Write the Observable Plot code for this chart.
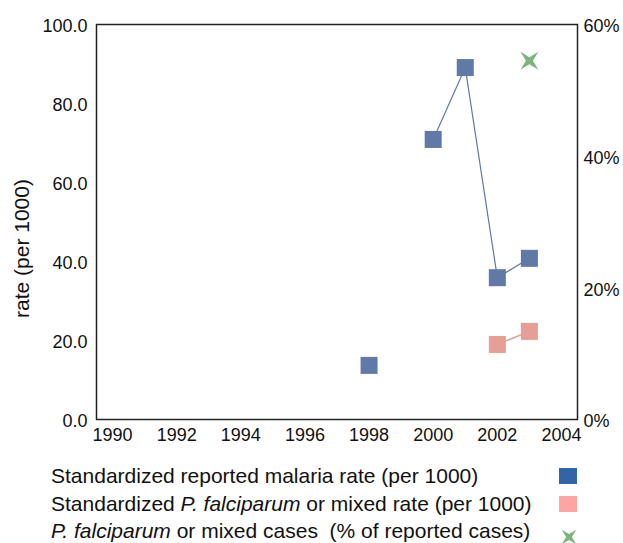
<!DOCTYPE html>
<html><head><meta charset="utf-8">
<script src="https://cdn.jsdelivr.net/npm/d3@7"></script>
<script src="https://cdn.jsdelivr.net/npm/@observablehq/plot@0.6"></script>
<style>
body{margin:0;background:#fff;font-family:"Liberation Sans",Arial,sans-serif;overflow:hidden;}
#legend{position:absolute;left:51px;top:462px;width:560px;font-size:21px;color:#111;}
.row{position:relative;height:27.5px;line-height:28px;white-space:nowrap;}
.sw{position:absolute;left:508px;top:6px;width:18px;height:16px;}
</style></head><body>
<div id="chart"></div>
<div id="legend"></div>
<script>
const years = [1998, 2000, 2001, 2002, 2003];
const reportedRate = [13.7, 70.9, 89.1, 35.9, 40.8];
const falcYears = [2002, 2003];
const falcRate = [19.0, 22.3];
const pctYears = [2003];
const pctCases = [54.5];
const xTicks = [1990, 1992, 1994, 1996, 1998, 2000, 2002, 2004];
const yTicks = [0, 20, 40, 60, 80, 100];
const pctTicks = [0, 20, 40, 60];
const legendLabels = [
  'Standardized reported malaria rate (per 1000)',
  'Standardized <i>P. falciparum</i> or mixed rate (per 1000)',
  '<i>P. falciparum</i> or mixed cases&nbsp; (% of reported cases)'
];

const blue = "#6079a6", pink = "#e69e95", green = "#7cb57b";

const rep = years.map((y,i)=>({year:y, v:reportedRate[i]}));
const falc = falcYears.map((y,i)=>({year:y, v:falcRate[i]}));
const pct = pctYears.map((y,i)=>({year:y, v:pctCases[i]*100/60}));

// split into consecutive-year segments
function segments(arr){
  const out=[]; let cur=[];
  arr.forEach((d,i)=>{ if(i>0 && d.year-arr[i-1].year>1){ out.push(cur); cur=[]; } cur.push(d); });
  out.push(cur);
  return out.flatMap((s,k)=>s.map(d=>({...d, seg:k})));
}

const star = {
  draw(ctx, size){
    const r = Math.sqrt(size)*0.75, q = r*0.28;
    const pts=[];
    for(let i=0;i<4;i++){
      const a = Math.PI/4 + i*Math.PI/2;
      pts.push([r*Math.cos(a), r*Math.sin(a)]);
      const b = a + Math.PI/4;
      pts.push([q*Math.cos(b), q*Math.sin(b)]);
    }
    ctx.moveTo(pts[0][0],pts[0][1]);
    for(let i=1;i<pts.length;i++) ctx.lineTo(pts[i][0],pts[i][1]);
    ctx.closePath();
  }
};

const plot = Plot.plot({
  width: 623, height: 450,
  marginTop: 24, marginBottom: 31, marginLeft: 96, marginRight: 46,
  style: {fontFamily: '"Liberation Sans", Arial, sans-serif', fontSize: "18px", color:"#111", overflow:"visible"},
  x: {domain: [1989.5, 2004.5]},
  y: {domain: [0, 100]},
  marks: [
    Plot.frame({stroke:"#222", strokeWidth:1.5}),
    Plot.axisX(xTicks, {tickSize:0, tickPadding:9, tickFormat: d=>String(d), fontSize:18, label:null}),
    Plot.axisY(yTicks, {tickSize:0, tickPadding:9, dy:1.5, tickFormat: d=>d.toFixed(1), fontSize:18, label:null}),
    Plot.axisY(pctTicks, {anchor:"right", y: d=>d*100/60, text: d=>d+"%", tickSize:0, tickPadding:6, dy:2, fontSize:18, label:null}),
    Plot.text(["rate (per 1000)"], {frameAnchor:"left", textAnchor:"middle", dx:-74, dy:26.5, rotate:-90, fontSize:21, fill:"#111"}),
    Plot.line(segments(rep), {x:"year", y:"v", z:"seg", stroke:blue, strokeWidth:1.2}),
    Plot.line(segments(falc), {x:"year", y:"v", z:"seg", stroke:pink, strokeWidth:1.5}),
    Plot.dot(rep, {x:"year", y:"v", symbol:"square", r:9.6, fill:blue}),
    Plot.dot(falc, {x:"year", y:"v", symbol:"square", r:9.6, fill:pink}),
    Plot.dot(pct, {x:"year", y:"v", symbol:star, r:9.5, fill:green})
  ]
});
document.getElementById("chart").append(plot);

const swCols = ["#3264a8", "#ffa3a3", null];
const lg = document.getElementById("legend");
legendLabels.forEach((t,i)=>{
  const row = document.createElement("div"); row.className="row"; row.innerHTML = t;
  if(swCols[i]){ const s=document.createElement("div"); s.className="sw"; s.style.background=swCols[i]; row.append(s); }
  else {
    const ns="http://www.w3.org/2000/svg";
    const svg=document.createElementNS(ns,"svg"); svg.setAttribute("width",20); svg.setAttribute("height",20);
    svg.style.position="absolute"; svg.style.left="507.5px"; svg.style.top="9.5px";
    const p=document.createElementNS(ns,"path");
    const path=d3.path(); star.draw(path, 190);
    p.setAttribute("d", path.toString()); p.setAttribute("transform","translate(10,10)"); p.setAttribute("fill","#7cb57b");
    svg.append(p); row.append(svg);
  }
  lg.append(row);
});
</script></body></html>
